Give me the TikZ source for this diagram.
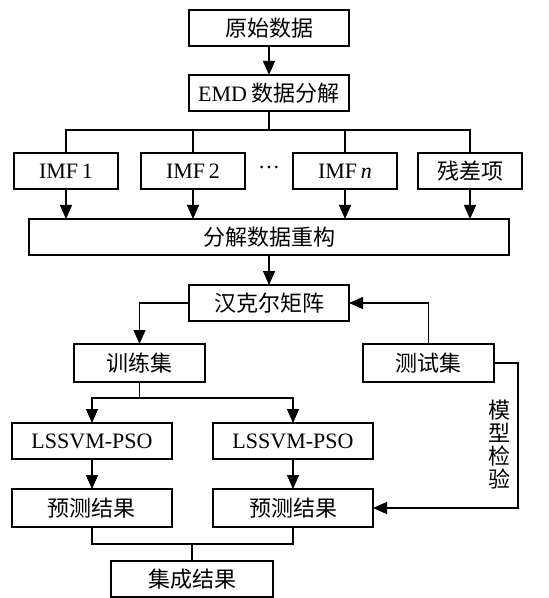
\documentclass[tikz,border=0pt]{standalone}
\usepackage{fontspec}
\setmainfont{Liberation Serif}
\newfontfamily\cjk{Noto Sans CJK SC}
\usetikzlibrary{positioning,arrows.meta}

\begin{document}
\begin{tikzpicture}[%
    >={Triangle[length=7pt,width=6pt]},
    line width=0.7pt,
    node distance=15pt,
    block/.style={%
      rectangle,
      draw,
      line width=0.9pt,
      inner sep=0pt,
      outer sep=0pt,
      minimum width=80pt,
      minimum height=18pt,
      font=\cjk\fontsize{11}{12}\selectfont
    }
  ]
    \useasboundingbox (-134.5pt,14pt) rectangle (140pt,-285pt);

    \node[block] (raw)                                                  {原始数据};
    \node[block] (emd) [node distance=14.5pt,below=of raw]              {{\rmfamily EMD} 数据分解};
    \node[block,draw=none,minimum width=24pt] (dots) [node distance=21pt,below=of emd] {\raisebox{0.3em}{\rmfamily …}};
    \node[block,minimum width=52pt] (imf2) [left=0pt of dots]           {\rmfamily IMF\,2};
    \node[block,minimum width=52pt] (imf1) [left=11.5pt of imf2]        {\rmfamily IMF\,1};
    \node[block,minimum width=52pt] (imfn) [right=0pt of dots]          {\rmfamily IMF\,\textit{n}};
    \node[block,minimum width=52pt] (res)  [right=10.5pt of imfn]       {残差项};
    \node[block,minimum width=240pt] (recon) [below=of dots]            {分解数据重构};
    \node[block] (hankel) [below=of recon]                              {汉克尔矩阵};
    \node[block,minimum width=65.5pt,minimum height=19pt] (train) [node distance=11.5pt,below=of hankel,xshift=-64.75pt] {训练集};
    \node[block,minimum width=65.5pt,minimum height=19pt] (test)  [node distance=11.5pt,below=of hankel,xshift=79.75pt]  {测试集};
    \node[block] (lss1) [node distance=20.5pt,below=of train,xshift=-23.75pt] {\rmfamily LSSVM-PSO};
    \node[block] (lss2) [node distance=20.5pt,right=of lss1]            {\rmfamily LSSVM-PSO};
    \node[block,minimum height=19pt] (pred1) [below=of lss1]            {预测结果};
    \node[block,minimum height=19pt] (pred2) [below=of lss2]            {预测结果};
    \node[block,minimum width=81pt] (ens) [node distance=17pt,below=of pred1,xshift=50pt] {集成结果};

    % decomposition
    \draw[->] (raw) -- (emd);
    \draw (emd.south) -- ++(0,-9.5pt) coordinate (split);
    \draw (imf1.north) |- (split) -| (res.north);
    \draw (imf2.north) -- (imf2.north |- split);
    \draw (imfn.north) -- (imfn.north |- split);
    \foreach \n in {imf1,imf2,imfn,res}
      \draw[->] (\n.south) -- (\n.south |- recon.north);

    % training and testing
    \draw[->] (recon) -- (hankel);
    \draw[->] (hankel.west) -| (train.north);
    \draw[->] (test.north) |- (hankel.east);
    \draw (train.south) -- ++(0,-8pt) coordinate (fork);
    \draw[->] (fork) -| (lss1.north);
    \draw[->] (fork) -| (lss2.north);
    \draw[->] (lss1) -- (pred1);
    \draw[->] (lss2) -- (pred2);
    \draw[->] (test.east) -- ++(12pt,0) |- node[pos=0.28,left,align=center,font=\cjk\fontsize{11}{11.5}\selectfont] (check) {模\\型\\检\\验} (pred2.east);

    % ensemble
    \draw (ens.north) -- ++(0,8.5pt) coordinate (merge);
    \draw (pred1.south) |- (merge) -| (pred2.south);
  \end{tikzpicture}
\end{document}
